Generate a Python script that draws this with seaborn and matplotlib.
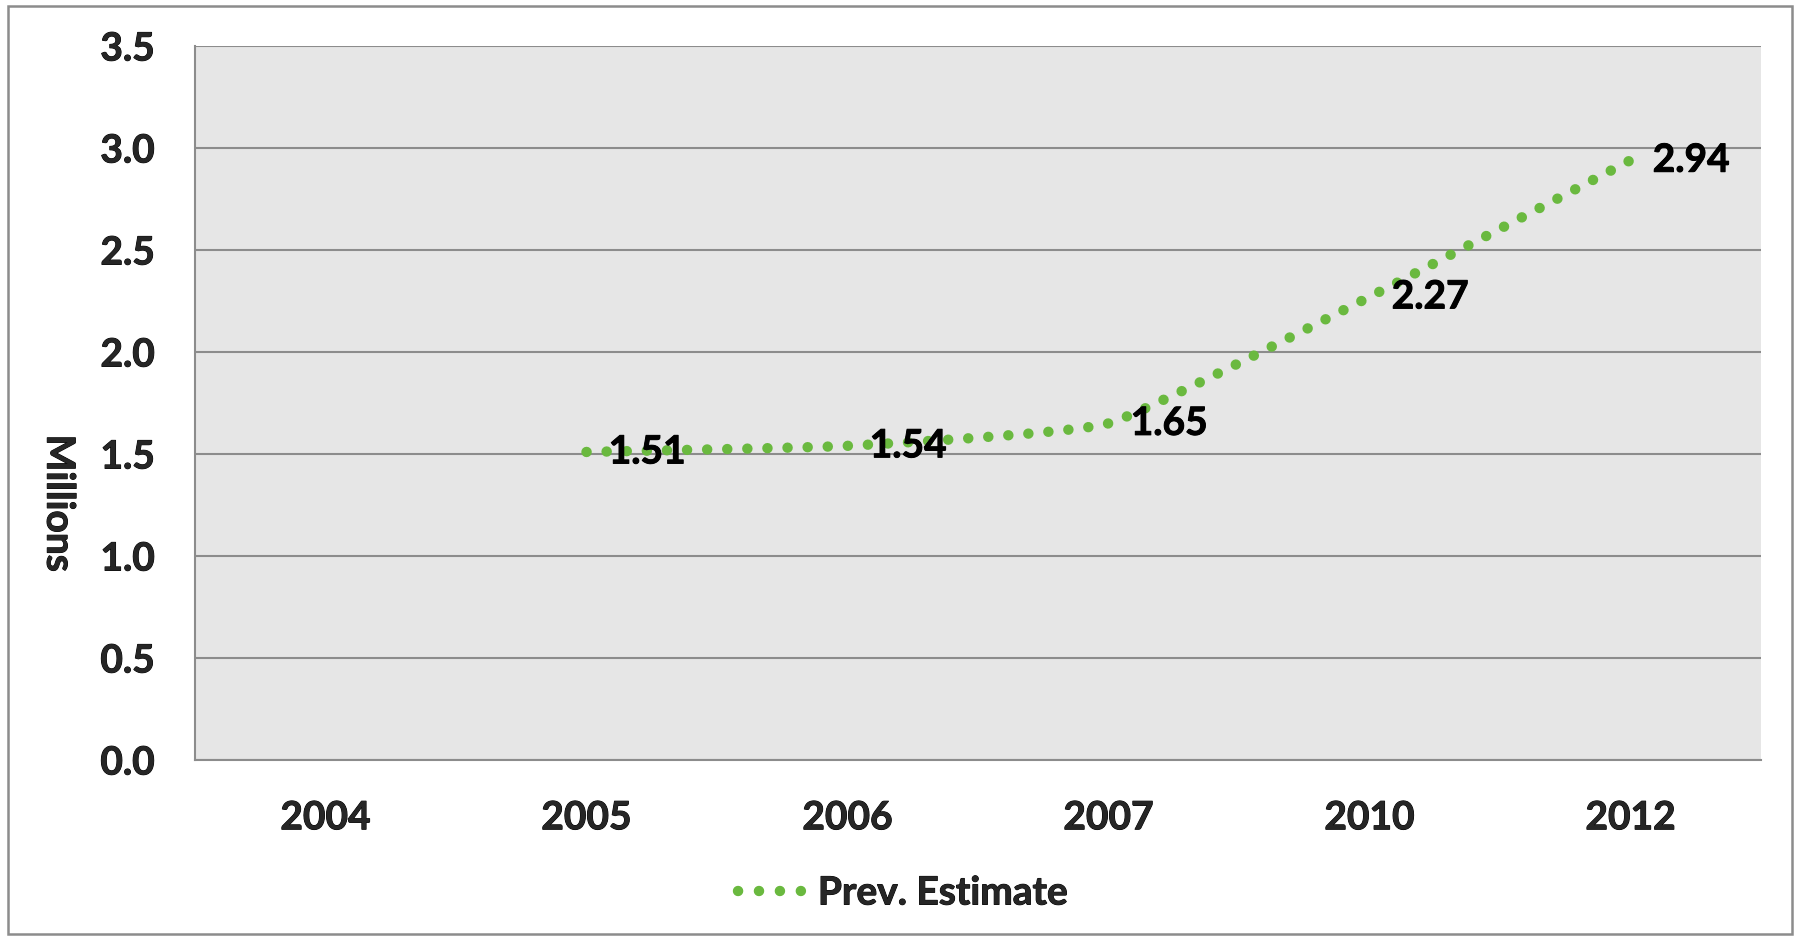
import numpy as np
import pandas as pd
import seaborn as sns
import matplotlib.pyplot as plt
import matplotlib.patheffects as pe
from matplotlib.patches import Rectangle
from matplotlib.lines import Line2D

# Chart data
years = ["2004", "2005", "2006", "2007", "2010", "2012"]
prev_estimate = [np.nan, 1.51, 1.54, 1.65, 2.27, 2.94]
y_ticks = [0.0, 0.5, 1.0, 1.5, 2.0, 2.5, 3.0, 3.5]
series_name = "Prev. Estimate"
y_label = "Millions"

GREEN = "#6AB93F"
GRID = "#8C8C8C"
FONT = "Lato"
WEIGHT = "bold"
FS = 28
LW = 7.5            # dot diameter in points
DOT_STEP_PX = 20    # approximate distance between dot centres
HEAVY = [pe.withStroke(linewidth=0.7, foreground="black")]


def smooth_curve(xs, ys, tension=0.4, steps=120):
    """Light Bezier smoothing through the points (smoothed-line chart style)."""
    pts = np.column_stack([xs, ys])
    n = len(pts)
    # phantom end points mirror the neighbouring segment
    ext = np.vstack([2 * pts[0] - pts[1], pts, 2 * pts[-1] - pts[-2]])
    out = []
    for i in range(n - 1):
        p0, p1, p2, p3 = ext[i], ext[i + 1], ext[i + 2], ext[i + 3]
        c1 = p1 + (p2 - p0) * tension / 6.0
        c2 = p2 - (p3 - p1) * tension / 6.0
        t = np.linspace(0, 1, steps, endpoint=(i == n - 2))[:, None]
        seg = ((1 - t) ** 3) * p1 + 3 * ((1 - t) ** 2) * t * c1 \
            + 3 * (1 - t) * t ** 2 * c2 + t ** 3 * p2
        out.append(seg)
    out = np.vstack(out)
    return out[:, 0], out[:, 1]


sns.set_theme(style="white")
plt.rcParams["font.family"] = [FONT, "DejaVu Sans"]
plt.rcParams["font.weight"] = WEIGHT

fig = plt.figure(figsize=(17.97, 9.36), dpi=100)
W, H = 1797, 936
ax = fig.add_axes([195 / W, 1 - 760 / H, (1761 - 195) / W, (760 - 46) / H])
ax.set_facecolor("#E6E6E6")
ax.set_xlim(-0.5, len(years) - 0.5)
ax.set_ylim(0, 3.5)

df = pd.DataFrame({"year": years, "value": prev_estimate})
df["pos"] = np.arange(len(years))
valid = df.dropna()

sx, sy = smooth_curve(valid["pos"].to_numpy(float), valid["value"].to_numpy(float))
curve = pd.DataFrame({"x": sx, "y": sy})

# fit a whole number of dots along the curve so both ends carry a dot
disp = ax.transData.transform(np.column_stack([sx, sy]))
length_px = np.sum(np.hypot(*np.diff(disp, axis=0).T))
n_steps = max(1, round(length_px / DOT_STEP_PX))
step_pt = (length_px / n_steps) * 0.998 * 72.0 / fig.dpi
dots = (0, (0.01, step_pt / LW - 0.01))

sns.lineplot(data=curve, x="x", y="y", sort=False, estimator=None, ax=ax,
             color=GREEN, linewidth=LW, linestyle=dots,
             dash_capstyle="round", zorder=3)

for _, r in valid.iterrows():
    ax.annotate(f"{r['value']:.2f}", (r["pos"], r["value"]), xytext=(16, 0),
                textcoords="offset points", ha="left", va="center",
                fontsize=FS, fontweight=WEIGHT, color="black", zorder=4,
                path_effects=HEAVY)

ax.set_yticks(y_ticks)
ax.set_yticklabels([f"{v:.1f}" for v in y_ticks])
ax.set_xticks(df["pos"])
ax.set_xticklabels(years)
ax.tick_params(axis="y", length=0, pad=29, labelsize=FS)
ax.tick_params(axis="x", length=0, pad=29, labelsize=FS)
for lab in ax.get_xticklabels() + ax.get_yticklabels():
    lab.set_fontweight(WEIGHT)
    lab.set_path_effects(HEAVY)

ax.grid(axis="y", color=GRID, linewidth=1.5)
ax.grid(axis="x", visible=False)
ax.set_axisbelow(True)
for side in ["top", "right"]:
    ax.spines[side].set_visible(False)
for side in ["left", "bottom"]:
    ax.spines[side].set_color(GRID)
    ax.spines[side].set_linewidth(1.5)

ax.set_xlabel("")
ax.set_ylabel(y_label, fontsize=FS, fontweight=WEIGHT, rotation=270, va="center",
              path_effects=HEAVY)
ax.yaxis.set_label_coords(-0.087, 0.36)

handle = Line2D([0], [0], color=GREEN, linewidth=LW, linestyle=(0, (0.01, 2.0)),
                dash_capstyle="round")
leg = fig.legend([handle], [series_name], loc="center",
                 bbox_to_anchor=(903 / W, 1 - 893 / H), frameon=False,
                 handlelength=1.9, handletextpad=0.15,
                 prop={"size": FS, "weight": WEIGHT})
for txt in leg.get_texts():
    txt.set_path_effects(HEAVY)

fig.add_artist(Rectangle((8 / W, 2 / H), (1792 - 8) / W, (930 - 2) / H,
                         transform=fig.transFigure, fill=False,
                         edgecolor=GRID, linewidth=1.8))

fig.savefig("out.png", dpi=100, facecolor="white")
